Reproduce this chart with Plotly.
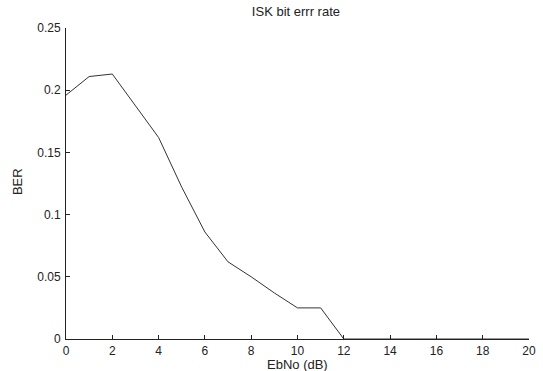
import plotly.graph_objects as go

ebno = list(range(0, 21))
ber = [0.196, 0.211, 0.213, 0.188, 0.162, 0.122, 0.086, 0.062, 0.050, 0.037,
       0.025, 0.025, 0.0, 0.0, 0.0, 0.0, 0.0, 0.0, 0.0, 0.0, 0.0]
x_ticks = list(range(0, 21, 2))
y_ticks = [0, 0.05, 0.1, 0.15, 0.2, 0.25]
y_tick_text = ["0", "0.05", "0.1", "0.15", "0.2", "0.25"]

fig = go.Figure()
fig.add_trace(go.Scatter(x=ebno, y=ber, mode="lines",
                         line=dict(color="#333333", width=1), showlegend=False))

font = dict(family="Liberation Sans, Arial, sans-serif", size=12, color="#222222")
fig.update_layout(
    width=543, height=371,
    margin=dict(l=66, r=14, t=28, b=32, autoexpand=False),
    paper_bgcolor="white", plot_bgcolor="white",
    font=font,
    title=dict(text="ISK bit errr rate", x=0.545, xanchor="center",
               y=0.968, yanchor="middle", font=dict(size=13, color="#222222")),
    xaxis=dict(range=[0, 20], tickvals=x_ticks, ticks="inside", ticklen=4,
               tickcolor="#222222", showline=True, linecolor="#222222", linewidth=1,
               showgrid=False, zeroline=False, mirror=False, ticklabelstandoff=1,
               automargin=False),
    yaxis=dict(range=[0, 0.25], tickvals=y_ticks, ticktext=y_tick_text,
               ticks="inside", ticklen=4, ticklabelstandoff=2, automargin=False,
               tickcolor="#222222", showline=True, linecolor="#222222", linewidth=1,
               showgrid=False, zeroline=False, mirror=False),
    annotations=[
        dict(text="EbNo (dB)", xref="paper", yref="paper",
             x=0.499, y=-0.0804, xanchor="center", yanchor="middle",
             showarrow=False, font=dict(size=13, color="#222222")),
        dict(text="BER", xref="paper", yref="paper", textangle=-90,
             x=-0.1034, y=0.505, xanchor="center", yanchor="middle",
             showarrow=False, font=dict(size=13, color="#222222")),
    ],
)
fig.write_html("out.html")
